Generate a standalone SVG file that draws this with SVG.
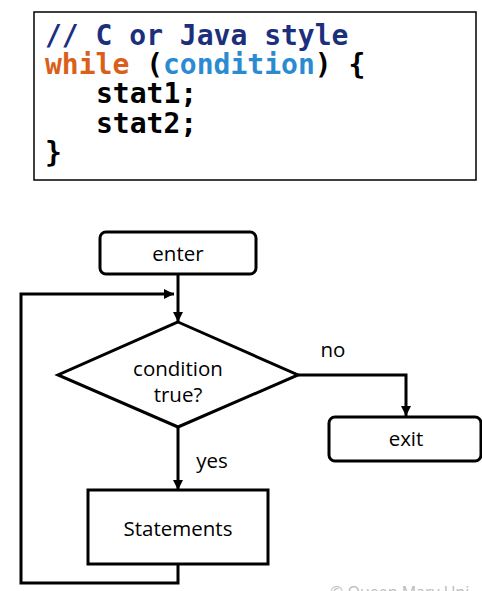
<svg xmlns="http://www.w3.org/2000/svg" width="482" height="591" viewBox="0 0 482 591">
<style>
.code{font-family:"DejaVu Sans Mono","Liberation Mono",monospace;font-weight:bold;font-size:28px}
.lbl{font-family:"Open Sans","Noto Sans","Liberation Sans",sans-serif;font-size:20.5px;fill:#000}
.shape{fill:#fff;stroke:#000;stroke-width:3}
.conn{fill:none;stroke:#000;stroke-width:3}
</style>
<defs>
<marker id="arr" viewBox="0 0 10 10" refX="10" refY="5" markerWidth="11" markerHeight="10" markerUnits="userSpaceOnUse" orient="auto">
<path d="M0,0 L10,5 L0,10 Z" fill="#000"/>
</marker>
</defs>
<g id="code">
<rect x="34" y="12" width="442" height="168" fill="#fff" stroke="#000" stroke-width="1.5"/>
<text class="code" x="45" y="45" fill="#1b2f7d">// C or Java style</text>
<text class="code" x="45" y="74"><tspan fill="#d8601b">while</tspan><tspan fill="#000"> (</tspan><tspan fill="#2b8bd1">condition</tspan><tspan fill="#000">) {</tspan></text>
<text class="code" x="96" y="103" fill="#000">stat1;</text>
<text class="code" x="96" y="133" fill="#000">stat2;</text>
<text class="code" x="45" y="162" fill="#000">}</text>
</g>
<g id="connectors">
<path class="conn" d="M178,274 V322" marker-end="url(#arr)"/>
<path class="conn" d="M178,564 V583 H21 V294 H174" marker-end="url(#arr)"/>
<path class="conn" d="M298,375 H406 V416" marker-end="url(#arr)"/>
<path class="conn" d="M178,427 V490" marker-end="url(#arr)"/>
<text class="lbl" x="333" y="357" text-anchor="middle">no</text>
<text class="lbl" x="212" y="468" text-anchor="middle">yes</text>
</g>
<g id="enter">
<rect class="shape" x="100" y="232" width="156" height="42" rx="6"/>
<text class="lbl" x="178" y="261" text-anchor="middle">enter</text>
</g>
<g id="condition">
<path class="shape" d="M178,322 L298,375 L178,427 L58,375 Z"/>
<text class="lbl" x="178" y="376" text-anchor="middle">condition</text>
<text class="lbl" x="178" y="402" text-anchor="middle">true?</text>
</g>
<g id="exit">
<rect class="shape" x="329" y="417" width="152" height="44" rx="6"/>
<text class="lbl" x="406" y="446" text-anchor="middle">exit</text>
</g>
<g id="statements">
<rect class="shape" x="88" y="490" width="180" height="74"/>
<text class="lbl" x="178" y="536" text-anchor="middle">Statements</text>
</g>
<text x="330" y="598" font-family="Open Sans, Noto Sans, sans-serif" font-size="16" fill="#bbb">© Queen Mary Uni</text>
</svg>
